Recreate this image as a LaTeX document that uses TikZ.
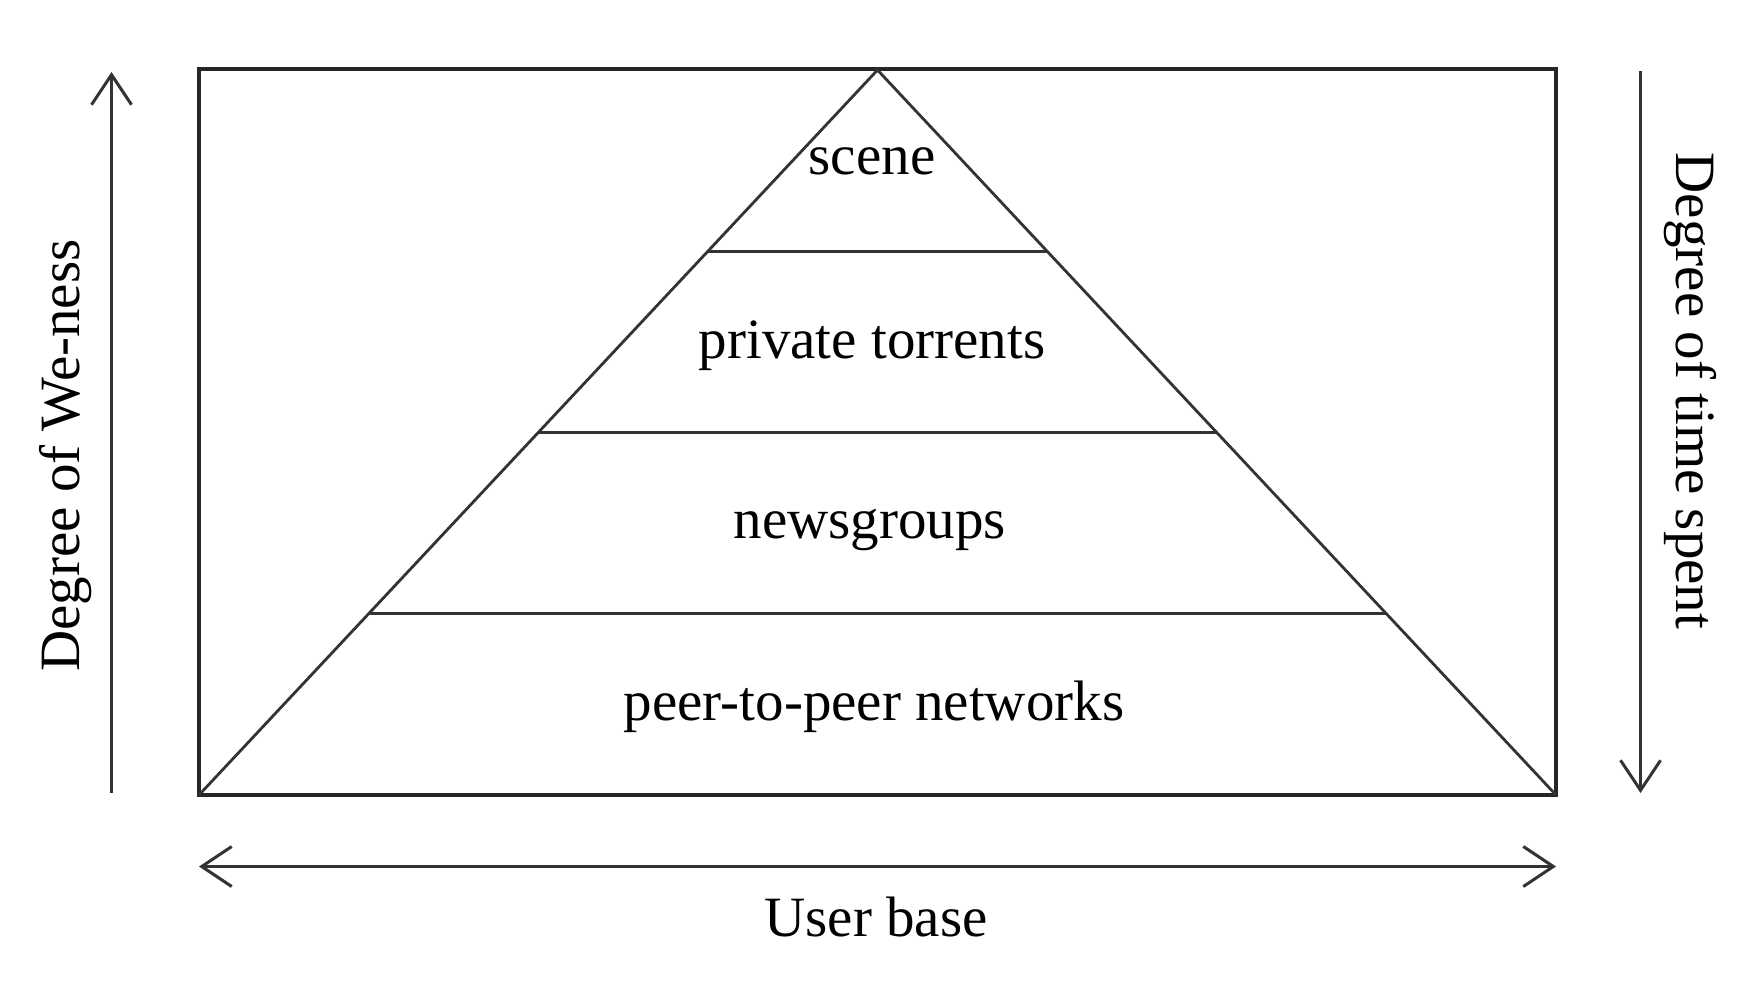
\documentclass[tikz,border=0pt]{standalone}
\usepackage{fontspec}
\setmainfont{Liberation Serif}
\usetikzlibrary{calc,arrows.meta}
\begin{document}
\begin{tikzpicture}[x=1pt,y=-1pt,
  frame/.style={line width=3.4pt,draw=black!85},
  layer/.style={line width=2.8pt,draw=black!80},
  axisarrow/.style={line width=3pt,draw=black!80},
  lbl/.style={font=\fontsize{57}{68}\selectfont,inner sep=0pt,anchor=base,text=black}]
\useasboundingbox (0,0) rectangle (1764,980);
\fill[white] (0,0) rectangle (1764,980);
% frame
\coordinate (tl) at (199,69);
\coordinate (brr) at (1556,795);
\draw[frame] (tl) rectangle (brr);
% pyramid
\coordinate (apex) at (877.5,70);
\coordinate (bl) at (199,795);
\coordinate (br) at (1556,795);
\draw[layer] (bl) -- (apex) -- (br);
\foreach \f/\n in {0.25/a,0.5/b,0.75/c}{
  \coordinate (L\n) at ($(apex)!\f!(bl)$);
  \coordinate (R\n) at ($(apex)!\f!(br)$);
  \draw[layer] (L\n) -- (R\n);
}
% layer labels
\node[lbl] (scene) at (872,174) {scene};
\node[lbl] (priv) at (872,358) {private torrents};
\node[lbl] (news) at (870,538) {newsgroups};
\node[lbl] (p2p) at (874,720) {peer-to-peer networks};
% axes
\coordinate (la0) at (111.5,793);
\coordinate (la1) at (111.5,72);
\draw[axisarrow,-{Straight Barb[length=30pt,width=40pt]}] (la0) -- (la1);
\coordinate (ra0) at (1640.5,71);
\coordinate (ra1) at (1640.5,793);
\draw[axisarrow,-{Straight Barb[length=30pt,width=40pt]}] (ra0) -- (ra1);
\coordinate (ba0) at (199,866.5);
\coordinate (ba1) at (1556,866.5);
\draw[axisarrow,{Straight Barb[length=30pt,width=40pt]}-{Straight Barb[length=30pt,width=40pt]}] (ba0) -- (ba1);
% axis labels
\node[lbl] (user) at (876,936) {User base};
\node[lbl,rotate=90] (wen) at (79,455.5) {Degree of We-ness};
\node[lbl,rotate=-90] (time) at (1676,391) {Degree of time spent};
\end{tikzpicture}
\end{document}
